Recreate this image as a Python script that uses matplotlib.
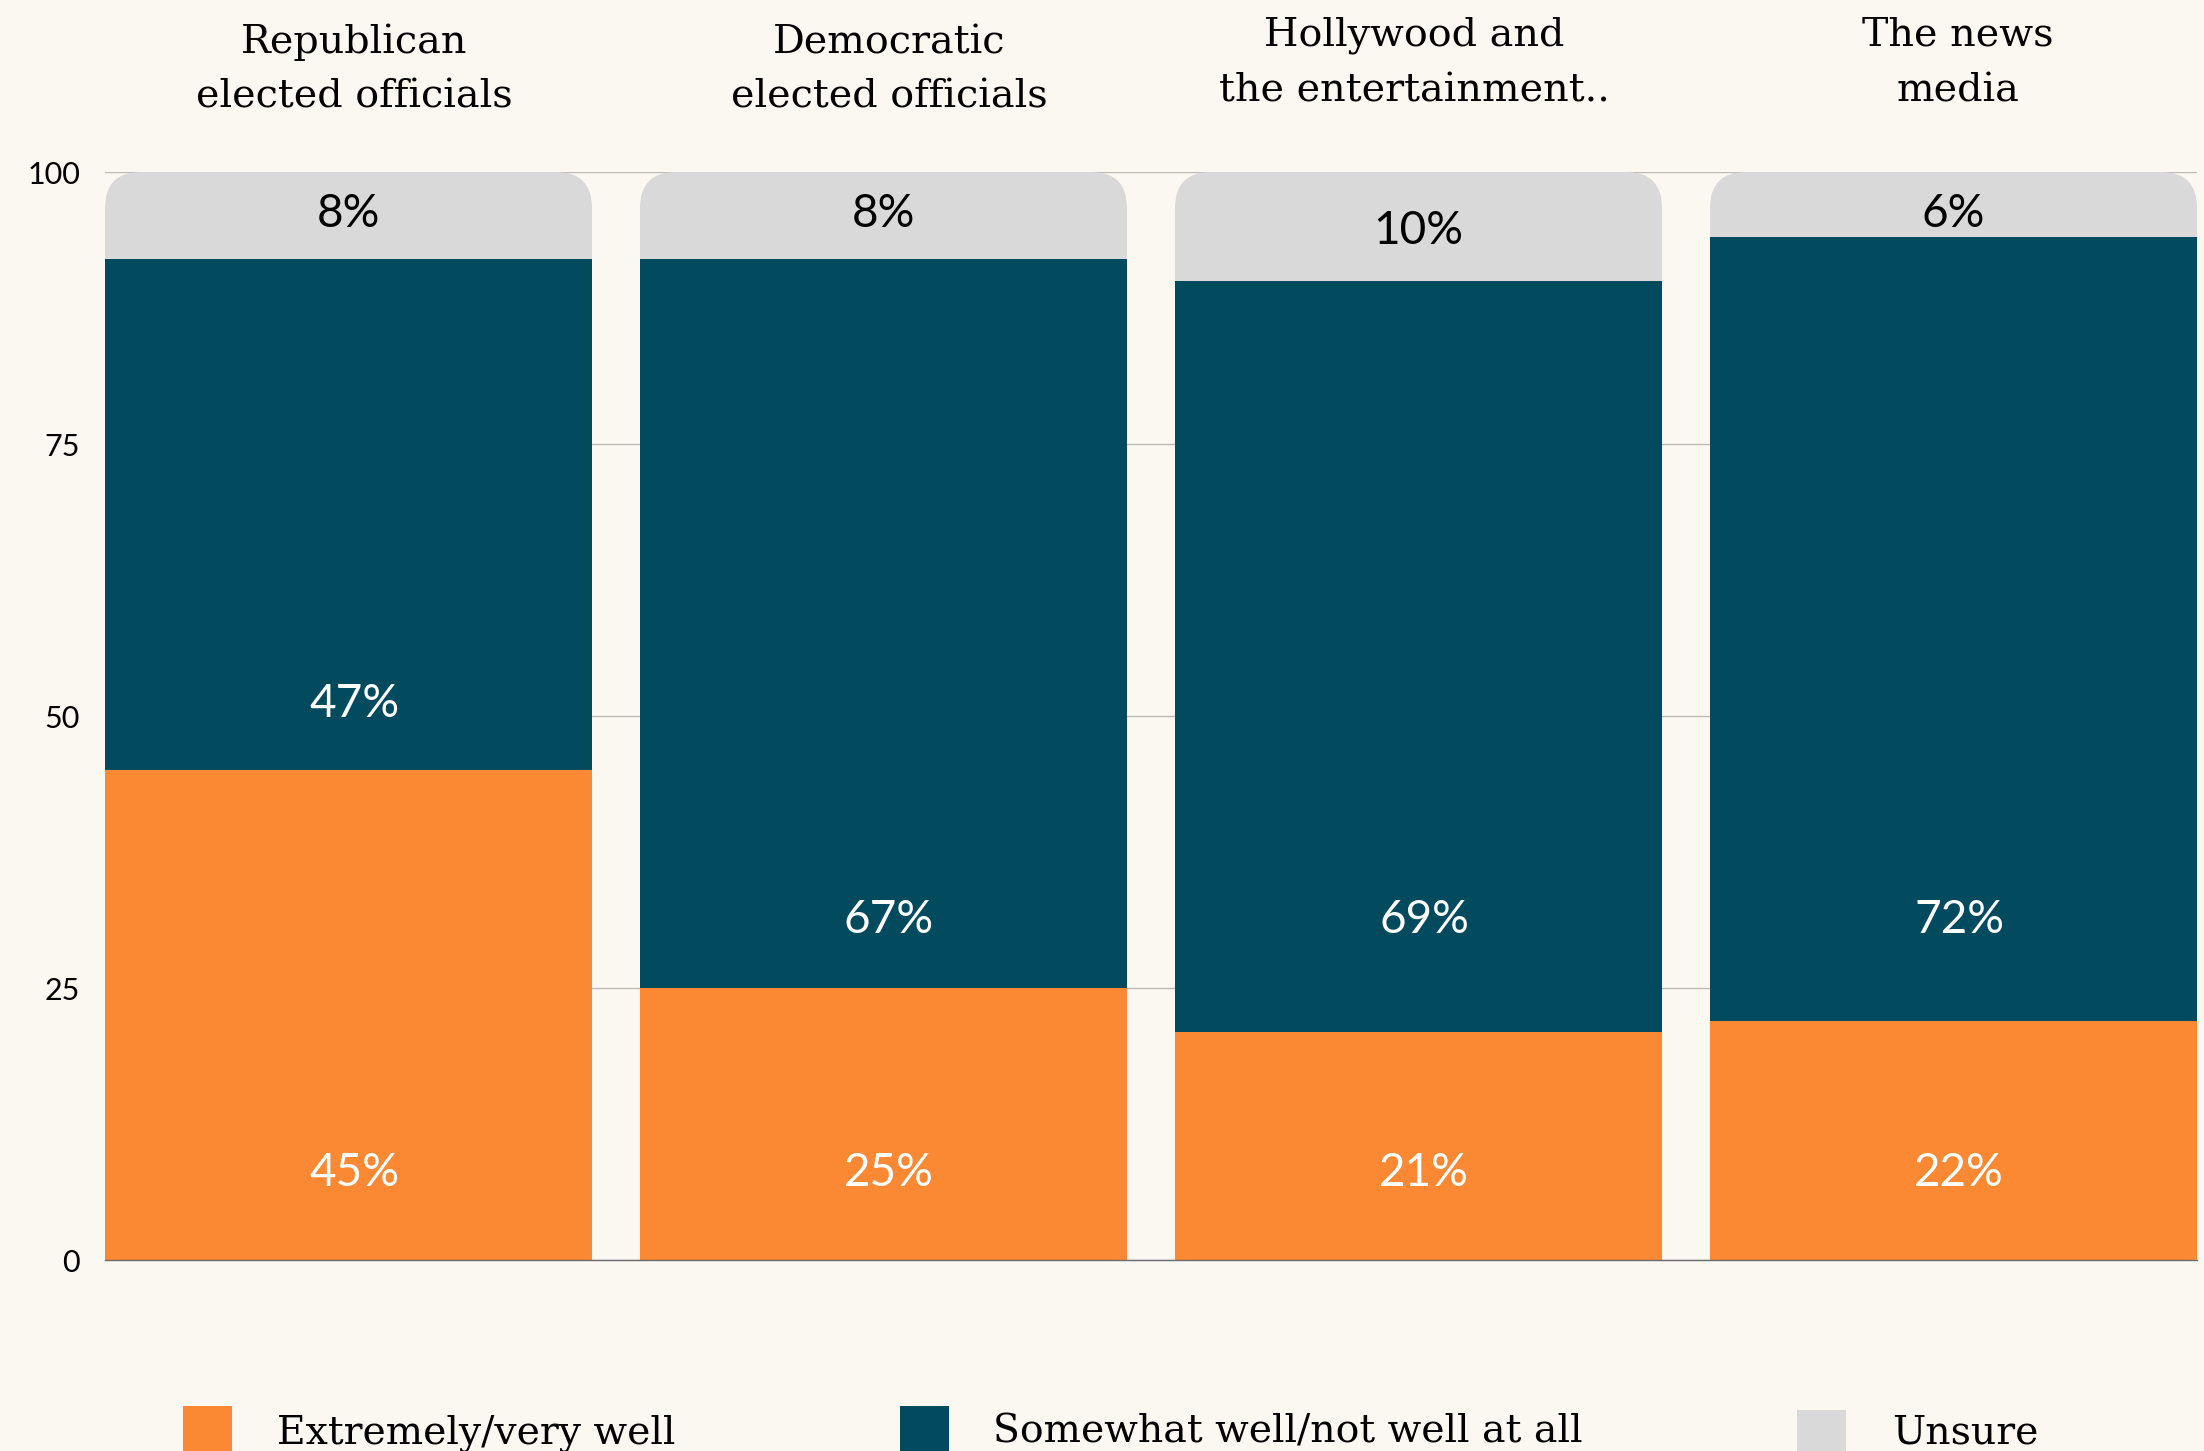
import numpy as np
import matplotlib
matplotlib.use("Agg")
import matplotlib.pyplot as plt
from matplotlib.patches import FancyBboxPatch, Rectangle
from matplotlib.transforms import blended_transform_factory

#data
categories = ["Republican\nelected officials", "Democratic\nelected officials",
              "Hollywood and\nthe entertainment..", "The news\nmedia"]
well = [45, 25, 21, 22]
not_well = [47, 67, 69, 72]
unsure = [8, 8, 10, 6]
series_names = ["Extremely/very well", "Somewhat well/not well at all", "Unsure"]
yticks = [0, 25, 50, 75, 100]

BG = "#FBF7F1"
ORANGE = "#FB8832"
TEAL = "#024A5E"
GRAY = "#D9D9D9"
SERIF = "DejaVu Serif"
SANS = "Lato"

W, H, DPI = 2204, 1451, 100
fig = plt.figure(figsize=(W / DPI, H / DPI), dpi=DPI, facecolor=BG)
ax = fig.add_axes([105 / W, 1 - 1260 / H, 2092 / W, 1088 / H])
ax.set_facecolor(BG)

x = np.arange(len(categories))
bw = 487 / 535
ax.set_xlim(-bw / 2, x[-1] + bw / 2)
ax.set_ylim(0, 100)

#rounded grey cap: one rounded box per column spanning the full stack,
#the orange / teal bars are drawn over its lower part
xpp = (x[-1] + bw) / 2092      # x data units per pixel
ypp = 100 / 1088               # y data units per pixel
r = 36 * xpp
for xi, a, b, c in zip(x, well, not_well, unsure):
    ax.add_patch(FancyBboxPatch((xi - bw / 2, 0), bw, a + b + c,
                                boxstyle=f"round,pad=0,rounding_size={r}",
                                mutation_aspect=ypp / xpp,
                                fc=GRAY, ec="none", zorder=2))
ax.bar(x, well, bw, color=ORANGE, zorder=3)
ax.bar(x, not_well, bw, bottom=well, color=TEAL, zorder=3)

#axes styling
ax.set_axisbelow(True)
ax.yaxis.grid(True, color="#BEBBB6", lw=1.0)
for s in ["top", "right", "left"]:
    ax.spines[s].set_visible(False)
ax.spines["bottom"].set_color("#6B6B6B")
ax.spines["bottom"].set_linewidth(1.0)
ax.spines["bottom"].set_zorder(4)
ax.set_xticks([])
ax.set_yticks(yticks)
ax.tick_params(axis="y", length=0, pad=18, labelsize=22)
for t in ax.get_yticklabels():
    t.set_fontfamily(SANS)

#value labels (vertically centred on the digits)
cap_off = -12.8                       # points, half the digit height
orange_label_y = 8.4
teal_label_y = [51.5, 31.7, 31.7, 31.7]
gray_label_y = [96.6, 96.6, 95.0, 96.6]
lab_kw = dict(textcoords="offset points", ha="center", va="baseline",
              fontsize=33, fontfamily=SANS, zorder=5)
for xi, a, b, c, ty, gy in zip(x, well, not_well, unsure, teal_label_y, gray_label_y):
    ax.annotate(f"{a}%", (xi, orange_label_y), xytext=(4, cap_off), color="white", **lab_kw)
    ax.annotate(f"{b}%", (xi, ty), xytext=(4, cap_off), color="white", **lab_kw)
    ax.annotate(f"{c}%", (xi, gy), xytext=(0, cap_off), color="black", **lab_kw)

#category headers above the columns (baselines in pixels from the top)
cat_base = [53, 53, 46, 46]
cat_dx = [0.01, 0.01, -0.008, 0.008]
tr = blended_transform_factory(ax.transData, fig.transFigure)
for xi, lab, yb, dx in zip(x, categories, cat_base, cat_dx):
    for k, line in enumerate(lab.split("\n")):
        ax.text(xi + dx, 1 - (yb + 55 * k) / H, line, transform=tr, ha="center",
                va="baseline", fontsize=28.5, fontfamily=SERIF, color="black")

#legend along the bottom edge (cut off, as in the reference)
leg_sq = [(183, 1406), (900, 1406), (1797, 1410)]
leg_tx = [277, 993, 1892]
for (lx, ly), tx, col, name in zip(leg_sq, leg_tx, [ORANGE, TEAL, GRAY], series_names):
    fig.add_artist(Rectangle((lx / W, 1 - (ly + 50) / H), 49 / W, 50 / H,
                             transform=fig.transFigure, fc=col, ec="none"))
    fig.text(tx / W, 1 - 1443 / H, name, ha="left", va="baseline",
             fontsize=28.4, fontfamily=SERIF, color="black")

fig.savefig("out.png", dpi=DPI, facecolor=BG)
